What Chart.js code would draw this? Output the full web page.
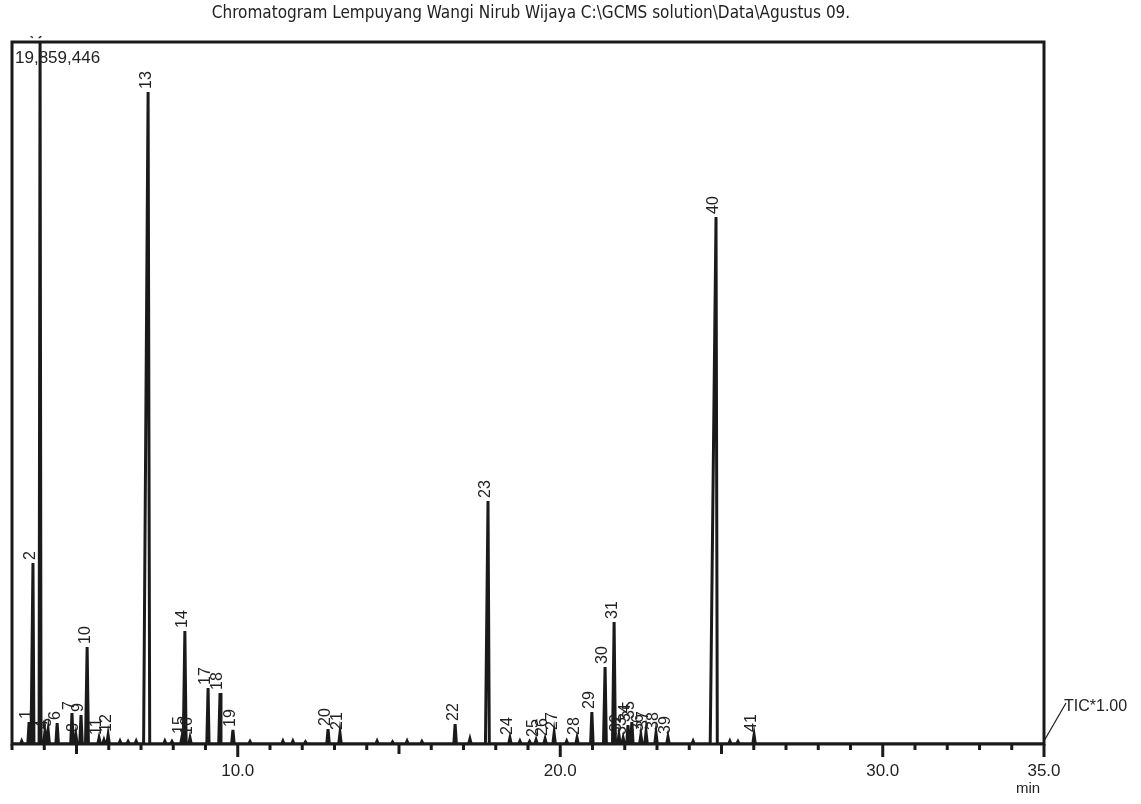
<!DOCTYPE html>
<html>
<head>
<meta charset="utf-8">
<script src="https://cdn.jsdelivr.net/npm/chart.js@4.4.1/dist/chart.umd.min.js"></script>
<style>
  html, body { margin: 0; padding: 0; background: #fff; }
  #wrap { width: 1141px; height: 804px; }
</style>
</head>
<body>
<div id="wrap"><canvas id="chromChart" width="1141" height="804"></canvas></div>
<script>
const chartTitle = 'Chromatogram Lempuyang Wangi Nirub Wijaya C:\\GCMS solution\\Data\\Agustus 09.';
const maxIntensity = 19859446;
const maxLabel = '19,859,446';
const detectorLabel = 'TIC*1.00';
const unitLabel = 'min';

// labelled peaks: retention time (min), height (counts), front / tail width (min)
const peakLabels = ['1','2','3','4','5','6','7','8','9','10',
  '11','12','13','14','15','16','17','18','19','20',
  '21','22','23','24','25','26','27','28','29','30',
  '31','32','33','34','35','36','37','38','39','40','41'];
const peakTimes = [3.53, 3.65, 3.87, 4.02, 4.12, 4.40, 4.86, 4.98, 5.14, 5.33,
  5.70, 5.98, 7.22, 8.36, 8.27, 8.52, 9.08, 9.45, 9.85, 12.80,
  13.17, 16.74, 17.76, 18.44, 19.25, 19.53, 19.81, 20.52, 20.98, 21.39,
  21.67, 21.82, 21.95, 22.10, 22.22, 22.50, 22.66, 22.97, 23.34, 24.83, 26.01];
const peakHeights = [622000, 5120000, 19859446, 340000, 396000, 594000, 877000, 255000, 820000, 2744000,
  170000, 255000, 18445000, 3197000, 198000, 170000, 1584000, 1443000, 396000, 424000,
  311000, 566000, 6874000, 170000, 113000, 141000, 311000, 170000, 905000, 2178000,
  3451000, 255000, 170000, 537000, 622000, 255000, 340000, 311000, 198000, 14909000, 255000];
const peakFront = [0.04, 0.06, 0.03, 0.04, 0.04, 0.04, 0.04, 0.04, 0.04, 0.05,
  0.04, 0.04, 0.14, 0.04, 0.04, 0.04, 0.04, 0.04, 0.04, 0.04,
  0.04, 0.04, 0.08, 0.04, 0.04, 0.04, 0.04, 0.04, 0.04, 0.05,
  0.05, 0.04, 0.04, 0.04, 0.04, 0.04, 0.04, 0.04, 0.04, 0.18, 0.04];
const peakTail = [0.04, 0.03, 0.03, 0.04, 0.04, 0.04, 0.04, 0.04, 0.04, 0.04,
  0.04, 0.04, 0.05, 0.04, 0.04, 0.04, 0.03, 0.03, 0.04, 0.04,
  0.04, 0.04, 0.04, 0.04, 0.04, 0.04, 0.04, 0.04, 0.04, 0.04,
  0.04, 0.04, 0.04, 0.04, 0.04, 0.04, 0.04, 0.04, 0.04, 0.04, 0.04];

// small unlabelled bumps on the baseline
const noiseTimes = [3.30, 5.85, 6.35, 6.60, 6.85, 7.74, 7.96, 10.38, 11.40, 11.71,
  12.10, 14.32, 14.80, 15.25, 15.71, 17.20, 18.75, 19.05, 20.20, 24.12, 25.26, 25.51];
const noiseHeights = [85000, 110000, 85000, 70000, 85000, 85000, 70000, 70000, 85000, 85000,
  60000, 85000, 60000, 85000, 70000, 140000, 85000, 70000, 85000, 85000, 85000, 70000];

const timeMin = 3.0;
const timeMax = 35.0;
const tickTimes = [3,4,5,6,7,8,9,10,11,12,13,14,15,16,17,18,19,20,21,22,23,24,25,26,27,28,29,30,31,32,33,34,35];
const tickLabelTimes = [10, 20, 30, 35];
const tickLabels = ['10.0', '20.0', '30.0', '35.0'];

// build the trace table from the peak lists
const events = [];
peakTimes.forEach((t, i) => events.push([t, peakHeights[i], peakFront[i], peakTail[i]]));
noiseTimes.forEach((t, i) => events.push([t, noiseHeights[i], 0.04, 0.04]));
events.sort((a, b) => a[0] - b[0]);
const trace = [{ x: timeMin, y: 0 }];
events.forEach(e => {
  trace.push({ x: e[0] - e[2], y: 0 });
  trace.push({ x: e[0], y: e[1] });
  trace.push({ x: e[0] + e[3], y: 0 });
});
trace.push({ x: timeMax, y: 0 });

const ink = '#1a1a1a';
const textFont = "'Liberation Sans Narrow', 'DejaVu Sans Condensed', 'Liberation Sans', sans-serif";

const decorations = {
  id: 'decorations',
  afterDraw(chart) {
    const { ctx, chartArea: a, scales } = chart;
    const xs = scales.x, ys = scales.y;
    ctx.save();

    // frame
    ctx.strokeStyle = ink;
    ctx.lineWidth = 3;
    ctx.strokeRect(a.left, a.top, a.right - a.left, a.bottom - a.top);

    // tick marks
    tickTimes.forEach(t => {
      const px = xs.getPixelForValue(t);
      const len = t % 10 === 0 || t === 35 ? 13 : (t % 5 === 0 ? 10 : 6);
      ctx.beginPath();
      ctx.moveTo(px, a.bottom);
      ctx.lineTo(px, a.bottom + len);
      ctx.stroke();
    });

    ctx.fillStyle = '#222';
    ctx.textAlign = 'center';
    ctx.textBaseline = 'middle';
    ctx.font = "17px 'Liberation Sans', sans-serif";
    tickLabelTimes.forEach((t, i) => {
      ctx.fillText(tickLabels[i], xs.getPixelForValue(t), a.bottom + 27);
    });
    ctx.font = "15px 'Liberation Sans', sans-serif";
    ctx.fillText(unitLabel, xs.getPixelForValue(timeMax) - 16, a.bottom + 45);

    // title
    ctx.font = '17px ' + textFont;
    ctx.fillText(chartTitle, (a.left + a.right) / 2 + 3, 14);

    // max intensity
    ctx.textAlign = 'left';
    ctx.font = "17px 'Liberation Sans', sans-serif";
    ctx.fillText(maxLabel, a.left + 3, a.top + 16);

    // detector label
    ctx.lineWidth = 1.2;
    ctx.beginPath();
    ctx.moveTo(a.right, a.bottom - 3);
    ctx.lineTo(a.right + 22, a.bottom - 41);
    ctx.stroke();
    ctx.font = "16px 'Liberation Sans', sans-serif";
    ctx.fillText(detectorLabel, a.right + 20, a.bottom - 37);

    // peak numbers
    ctx.font = "16px 'Liberation Sans', sans-serif";
    ctx.textBaseline = 'middle';
    peakLabels.forEach((lab, i) => {
      const px = xs.getPixelForValue(peakTimes[i]);
      const py = ys.getPixelForValue(peakHeights[i]);
      ctx.save();
      if (peakHeights[i] >= maxIntensity) {
        ctx.beginPath();
        ctx.rect(0, a.top - 6, chart.width, 40);
        ctx.clip();
      }
      ctx.translate(px - 2, py - 3);
      ctx.rotate(-Math.PI / 2);
      ctx.fillText(lab, 0, 0);
      ctx.restore();
    });
    ctx.restore();
  }
};

new Chart(document.getElementById('chromChart'), {
  type: 'line',
  data: {
    datasets: [{
      data: trace,
      borderColor: ink,
      borderWidth: 3,
      pointRadius: 0,
      tension: 0,
      fill: false
    }]
  },
  options: {
    responsive: false,
    animation: false,
    devicePixelRatio: 1,
    layout: { padding: { left: 12, right: 97, top: 42, bottom: 60 } },
    plugins: { legend: { display: false }, tooltip: { enabled: false }, title: { display: false } },
    scales: {
      x: { type: 'linear', min: timeMin, max: timeMax, display: false },
      y: { type: 'linear', min: 0, max: maxIntensity, display: false }
    }
  },
  plugins: [decorations]
});
</script>
</body>
</html>
